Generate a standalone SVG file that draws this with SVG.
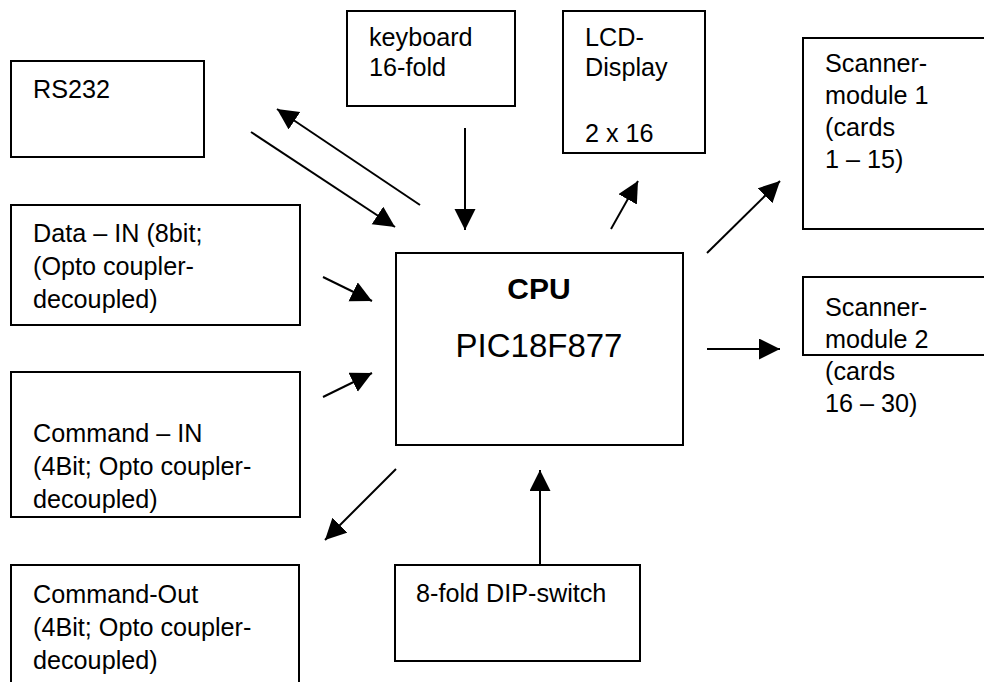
<svg xmlns="http://www.w3.org/2000/svg" width="984" height="682" viewBox="0 0 984 682">
  <style>
    .box { fill: #ffffff; stroke: #000000; stroke-width: 2; }
    .lbl { font-family: "Liberation Sans", Arial, sans-serif; font-size: 25.2px; fill: #000000; }
    .title { font-weight: bold; font-size: 30px; }
    .part { font-size: 33px; }
    .wire { stroke: #000000; stroke-width: 2; fill: none; marker-end: url(#head); }
  </style>
  <defs>
    <marker id="head" markerUnits="userSpaceOnUse" markerWidth="22" markerHeight="22" refX="21" refY="10.5" orient="auto">
      <path d="M0,0 L21,10.5 L0,21 Z" fill="#000000"/>
    </marker>
  </defs>
  <rect width="984" height="682" fill="#ffffff"/>

  <g id="rs232">
    <rect class="box" x="11" y="61" width="193" height="96"/>
    <text class="lbl" x="33" y="98">RS232</text>
  </g>
  <g id="keyboard">
    <rect class="box" x="347" y="11" width="168" height="95"/>
    <text class="lbl" x="369" y="46">keyboard</text>
    <text class="lbl" x="369" y="76">16-fold</text>
  </g>
  <g id="lcd">
    <rect class="box" x="563" y="11" width="142" height="142"/>
    <text class="lbl" x="585" y="46">LCD-</text>
    <text class="lbl" x="585" y="76">Display</text>
    <text class="lbl" x="585" y="142">2 x 16</text>
  </g>
  <g id="scanner1">
    <rect class="box" x="803" y="38" width="190" height="191"/>
    <text class="lbl" x="825" y="72">Scanner-</text>
    <text class="lbl" x="825" y="104">module 1</text>
    <text class="lbl" x="825" y="136">(cards</text>
    <text class="lbl" x="825" y="168">1 – 15)</text>
  </g>
  <g id="scanner2">
    <rect class="box" x="803" y="277" width="190" height="78"/>
    <text class="lbl" x="825" y="316">Scanner-</text>
    <text class="lbl" x="825" y="348">module 2</text>
    <text class="lbl" x="825" y="380">(cards</text>
    <text class="lbl" x="825" y="412">16 – 30)</text>
  </g>
  <g id="data-in">
    <rect class="box" x="11" y="205" width="289" height="120"/>
    <text class="lbl" x="33" y="242">Data – IN (8bit;</text>
    <text class="lbl" x="33" y="275">(Opto coupler-</text>
    <text class="lbl" x="33" y="308">decoupled)</text>
  </g>
  <g id="command-in">
    <rect class="box" x="11" y="372" width="289" height="145"/>
    <text class="lbl" x="33" y="442">Command – IN</text>
    <text class="lbl" x="33" y="475">(4Bit; Opto coupler-</text>
    <text class="lbl" x="33" y="508">decoupled)</text>
  </g>
  <g id="command-out">
    <rect class="box" x="11" y="565" width="288" height="130"/>
    <text class="lbl" x="33" y="603">Command-Out</text>
    <text class="lbl" x="33" y="636">(4Bit; Opto coupler-</text>
    <text class="lbl" x="33" y="669">decoupled)</text>
  </g>
  <g id="cpu">
    <rect class="box" x="396" y="253" width="287" height="192"/>
    <text class="lbl title" x="539" y="299" text-anchor="middle">CPU</text>
    <text class="lbl part" x="539" y="357" text-anchor="middle">PIC18F877</text>
  </g>
  <g id="dip-switch">
    <rect class="box" x="395" y="565" width="245" height="96"/>
    <text class="lbl" x="416" y="602">8-fold DIP-switch</text>
  </g>

  <g id="connectors">
    <line class="wire" x1="251" y1="132" x2="395" y2="227"/>
    <line class="wire" x1="420" y1="205" x2="277" y2="109"/>
    <line class="wire" x1="465" y1="128" x2="465" y2="230"/>
    <line class="wire" x1="611" y1="229" x2="638" y2="181"/>
    <line class="wire" x1="707" y1="253" x2="780" y2="181"/>
    <line class="wire" x1="707" y1="349" x2="780" y2="349"/>
    <line class="wire" x1="323" y1="277" x2="372" y2="301"/>
    <line class="wire" x1="323" y1="397" x2="372" y2="373"/>
    <line class="wire" x1="396" y1="469" x2="325" y2="540"/>
    <line class="wire" x1="540" y1="565" x2="540" y2="470"/>
  </g>
</svg>
